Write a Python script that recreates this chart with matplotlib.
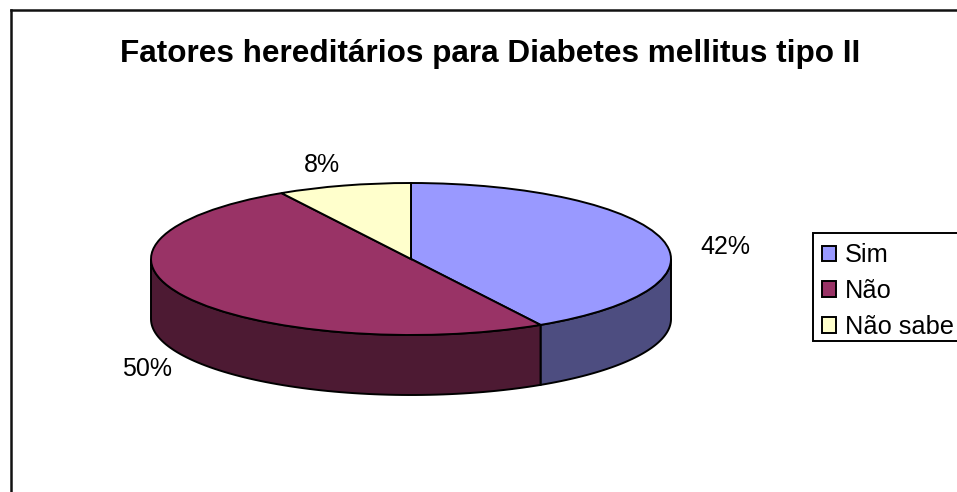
import numpy as np
import matplotlib
matplotlib.use('Agg')
import matplotlib.pyplot as plt
from matplotlib.lines import Line2D
from matplotlib.patches import Rectangle

plt.rcParams['font.family'] = ['Liberation Sans', 'DejaVu Sans']

labels = ['Sim', 'Não', 'Não sabe']
values = [41.7, 50.0, 8.3]
pct_labels = ['42%', '50%', '8%']
top_colors = ['#9999FF', '#993366', '#FFFFCC']
side_colors = ['#4D4D80', '#4D1A33', '#808066']
title = 'Fatores hereditários para Diabetes mellitus tipo II'

W, H = 957, 492
fig = plt.figure(figsize=(W / 100, H / 100), dpi=100, facecolor='white')

# chart frame, right and bottom run off the picture
fig.add_artist(Line2D([10.5 / W, 10.5 / W], [0, 1 - 9.5 / H], color='#111111', lw=1.8))
fig.add_artist(Line2D([10.5 / W, 1], [1 - 9.5 / H, 1 - 9.5 / H], color='#111111', lw=1.8))

fig.text(490 / W, 1 - 54 / H, title, ha='center', va='center', fontsize=22.7, fontweight='bold', color='black')

# squashed pie, top ellipse 151..671 x 183..335, rim 60px lower
depth = 60 / 76
ax = fig.add_axes([151 / W, 1 - 395 / H, 520 / W, 212 / H])
wedges, _ = ax.pie(values, colors=top_colors, startangle=90, counterclock=False, radius=1,
                   wedgeprops={'edgecolor': 'black', 'linewidth': 1.4, 'zorder': 3})
ax.set_aspect('auto')
ax.set_xlim(-1, 1)
ax.set_ylim(-1 - depth, 1)
ax.axis('off')

# side walls for the part of each slice that faces the viewer
start = 0
for v, c in zip(values, side_colors):
    end = start + v / sum(values) * 360
    a = max(start, 90)
    b = min(end, 270)
    if b > a:
        t = np.radians(np.linspace(a, b, 80))
        x = np.sin(t)
        y = np.cos(t)
        ax.fill(np.r_[x, x[::-1]], np.r_[y, y[::-1] - depth], facecolor=c, edgecolor='black',
                linewidth=1.4, zorder=2, clip_on=False)
    start = end

# percent labels
label_pos = [(725, 247), (147, 369), (322, 165)]
for s, (px, py) in zip(pct_labels, label_pos):
    fig.text(px / W, 1 - py / H, s, ha='center', va='center', fontsize=18, color='black')

# legend box drawn apart, it is cut by the right edge and tighter at the bottom than legend() makes it
fig.add_artist(Rectangle((813 / W, 1 - 341 / H), 160 / W, 108 / H, facecolor='white', edgecolor='black',
                         linewidth=1.4, zorder=1))
leg = fig.legend(wedges, labels, loc='upper left', bbox_to_anchor=(813 / W, 1 - 234 / H),
                 fontsize=18.3, frameon=False,
                 borderaxespad=0, borderpad=0.36, labelspacing=0.47, handlelength=0.55,
                 handleheight=0.55, handletextpad=0.35)

fig.savefig('out.png', dpi=100)
